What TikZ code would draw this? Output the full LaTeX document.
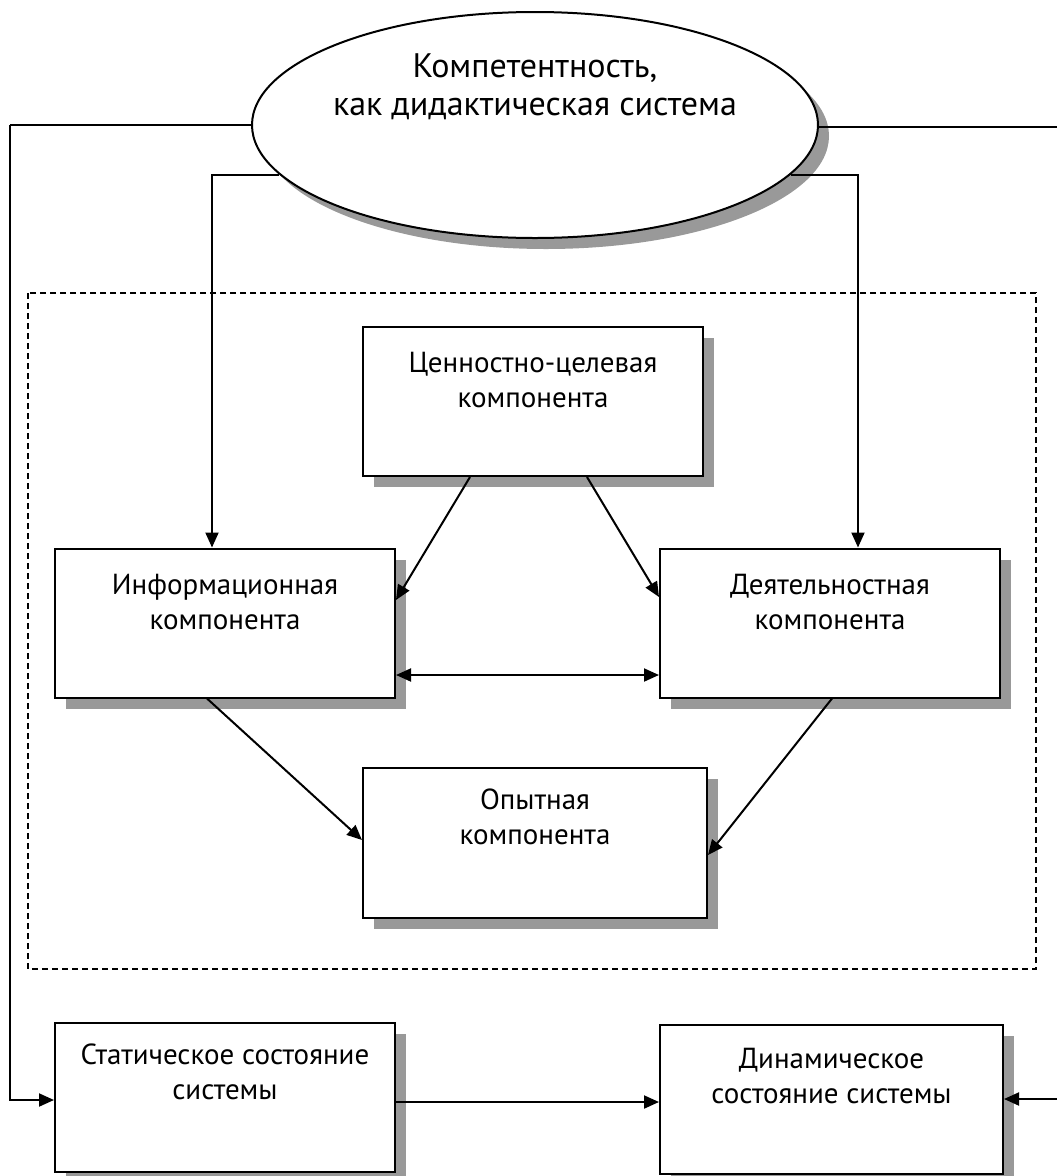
\documentclass[tikz,border=0pt]{standalone}
\usepackage{fontspec}
\setmainfont{PT Sans}
\usepackage{tikz}
\usetikzlibrary{positioning,shapes.geometric,shadows,arrows.meta}

\tikzset{
  comp/.style={draw, fill=white, line width=2pt, inner sep=0pt,
    minimum width=340pt, minimum height=149pt,
    general shadow={fill=black!40, shadow xshift=11pt, shadow yshift=-11pt}},
  lbl/.style={align=center, inner sep=0pt, font=\fontsize{29}{35}\selectfont},
  conn/.style={line width=2pt, -{Triangle[length=15pt,width=13pt]}},
  wire/.style={line width=2pt}
}

\begin{document}
\begin{tikzpicture}[x=1pt, y=-1pt]
\useasboundingbox (0,0) rectangle (1057,1176);

% system frame
\draw[line width=1.4pt, dash pattern=on 6pt off 4pt] (28,293) rectangle (1036,969);

% top ellipse
\node[ellipse, draw, fill=white, line width=2pt, inner sep=0pt,
  minimum width=566pt, minimum height=226pt,
  general shadow={fill=black!40, shadow xshift=11pt, shadow yshift=-11pt}]
  (comp) at (535,125) {};
\node[lbl, font=\fontsize{34}{38}\selectfont, below=42pt of comp.north]
  {Компетентность,\\как дидактическая система};

% components
\node[comp] (tsen) at (533,401.5) {};
\node[lbl, below=26pt of tsen.north] {Ценностно-целевая\\компонента};
\node[comp] (info) at (225,623) {};
\node[lbl, below=26pt of info.north] {Информационная\\компонента};
\node[comp] (deyat) at (830,623) {};
\node[lbl, below=26pt of deyat.north] {Деятельностная\\компонента};
\node[comp, minimum width=344pt, minimum height=150pt] (opyt) at (535,843) {};
\node[lbl, below=22pt of opyt.north] {Опытная\\компонента};

% states
\node[comp] (stat) at (225,1097) {};
\node[lbl, below=22pt of stat.north] {Статическое состояние\\системы};
\node[comp, minimum width=343pt] (dyn) at (831.5,1099) {};
\node[lbl, below=24pt of dyn.north] {Динамическое\\состояние системы};

\coordinate (lft) at (10,125);
\coordinate (rgt) at (1057,127);
\coordinate (rgtb) at (1057,1099);

% connectors
\draw[wire] (comp.west) -- (lft);
\draw[conn] (lft) |- (stat.west |- 0,1100);
\draw[wire] (comp.east |- rgt) -- (rgt);
\draw[conn] (rgtb) -- (dyn.east |- rgtb);
\draw[conn] (comp.191) -| (info.north -| 212,0);
\draw[conn] (comp.-11) -| (deyat.north -| 858,0);
\draw[conn] ([xshift=-63pt]tsen.south) -- (info.east |- 0,600);
\draw[conn] ([xshift=54pt]tsen.south) -- (deyat.west |- 0,597);
\draw[line width=2pt, {Triangle[length=15pt,width=13pt]}-{Triangle[length=15pt,width=13pt]}]
  (info.east |- 0,675) -- (deyat.west |- 0,675);
\draw[conn] ([xshift=-18pt]info.south) -- (opyt.west |- 0,840);
\draw[conn] ([xshift=2pt]deyat.south) -- (opyt.east |- 0,855);
\draw[conn] (stat.east |- 0,1102) -- (dyn.west |- 0,1102);
\end{tikzpicture}
\end{document}
